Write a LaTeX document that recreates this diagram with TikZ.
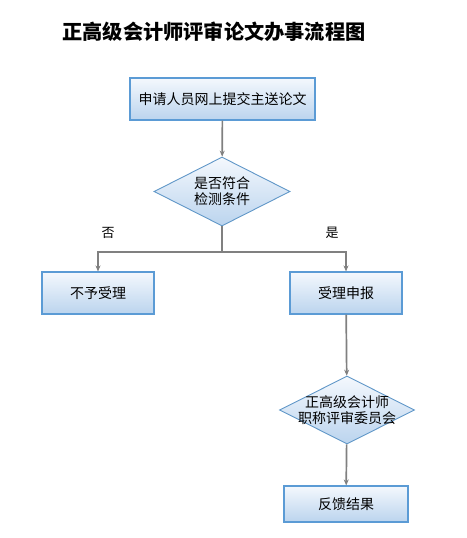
\documentclass[tikz,border=0pt]{standalone}
\usepackage{fontspec}
\setmainfont{Noto Sans CJK SC}
\usetikzlibrary{shapes.geometric,arrows.meta}
\definecolor{boxline}{HTML}{5B9BD5}
\definecolor{boxtop}{HTML}{F4F8FD}
\definecolor{boxbot}{HTML}{BBD4EE}
\definecolor{linkgray}{HTML}{808080}
\begin{document}
\begin{tikzpicture}[x=1pt, y=-1pt,
    stepbox/.style ={rectangle, draw=boxline, line width=1.1pt, top color=boxtop, bottom color=boxbot,
                     inner sep=0pt, font=\fontsize{14}{16}\selectfont},
    decision/.style ={diamond, draw=boxline!85!gray, line width=0.9pt, top color=boxtop, bottom color=boxbot,
                     inner xsep=-20pt, inner ysep=0pt, aspect=2, align=center, font=\fontsize{14}{16}\selectfont},
    link/.style ={draw=linkgray, line width=1.7pt, -{Stealth[length=6pt, width=5pt]}}]
   \useasboundingbox (0,0) rectangle (466,538);
   \node[font=\bfseries\fontsize{20.2}{24}\selectfont] (title) at (214,32) {正高级会计师评审论文办事流程图};

   \node[stepbox, minimum width=185pt, minimum height=42pt] (apply) at (222.5,99) {申请人员网上提交主送论文};
   \node[decision, minimum width=136pt, minimum height=69pt] (check) at (222,191.5) {是否符合\\检测条件};
   \node[stepbox, minimum width=112pt, minimum height=42pt] (reject) at (98,293) {不予受理};
   \node[stepbox, minimum width=112pt, minimum height=42pt] (accept) at (346,293) {受理申报};
   \node[decision, minimum width=135pt, minimum height=68pt] (board) at (347,410) {正高级会计师\\职称评审委员会};
   \node[stepbox, minimum width=124pt, minimum height=36pt] (result) at (346,504) {反馈结果};
   \node[font=\fontsize{13}{15}\selectfont] (no)  at (108,233) {否};
   \node[font=\fontsize{13}{15}\selectfont] (yes) at (332,233) {是};
   \coordinate (fork) at (222,252);

   \draw[link] (apply) to (check);
   \draw[draw=linkgray, line width=1.7pt] (check) to (fork);
   \draw[link] (fork) -| (reject);
   \draw[link] (fork) -| (accept);
   \draw[link] (accept) to (board);
   \draw[link] (board) to (result);
 \end{tikzpicture}
\end{document}
